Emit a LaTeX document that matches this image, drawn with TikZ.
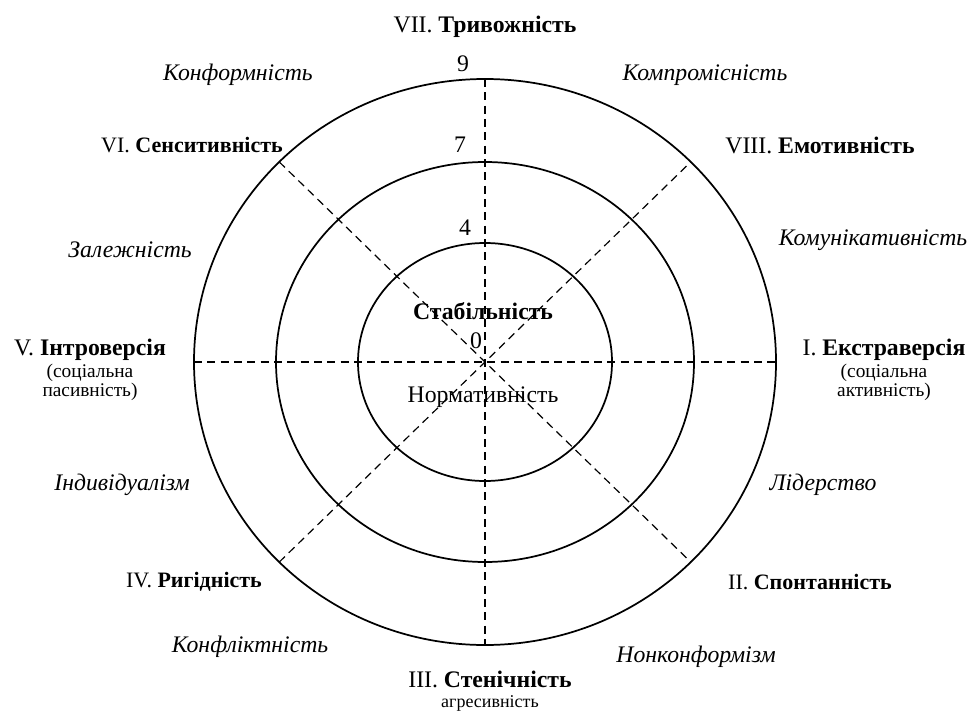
\documentclass[tikz,border=0pt]{standalone}
\usepackage{fontspec}
\setmainfont{Liberation Serif}

\tikzset{
  axis/.style={black,line width=0.9pt,dash pattern=on 6pt off 4pt},
  ring/.style={black,line width=1.3pt},
  lbl/.style={font=\fontsize{17.8}{20}\selectfont,inner sep=0pt},
  small lbl/.style={font=\fontsize{16.5}{18}\selectfont,inner sep=0pt},
  sublbl/.style={font=\fontsize{14.5}{12.5}\selectfont,inner sep=0pt},
  side/.style={font=\fontsize{17.8}{20}\selectfont\itshape,inner sep=0pt}
}

\begin{document}
\begin{tikzpicture}[x=0.75pt,y=-0.75pt]
\useasboundingbox (0,0) rectangle (973,713);
% Centre and ends of the axes
\coordinate (c) at (485,362);
\coordinate (n) at (485,79);
\coordinate (s) at (485,645);
\coordinate (w) at (194,362);
\coordinate (e) at (776,362);
\coordinate (ne) at (690.8,161.9);
\coordinate (nw) at (279.2,161.9);
\coordinate (sw) at (279.2,562.1);
\coordinate (se) at (690.8,562.1);
% Rings (9, 7, 4)
\draw[ring] (c) ellipse [x radius=218.25pt, y radius=212.25pt];
\draw[ring] (c) ellipse [x radius=156.75pt, y radius=150pt];
\draw[ring] (c) ellipse [x radius=95.25pt, y radius=89.25pt];
% Dashed axes
\draw[axis] (n)--(s);
\draw[axis] (w)--(e);
\draw[axis] (nw)--(se);
\draw[axis] (sw)--(ne);
% Scale numbers
\node[lbl] (v9) at (463,64) {9};
\node[lbl] (v7) at (460,145) {7};
\node[lbl] (v4) at (465,228) {4};
\node[lbl] (v0) at (476,341) {0};
\node[lbl,font=\fontsize{17.8}{20}\selectfont\bfseries] (stab) at (483,311) {Стабільність};
\node[lbl] (norm) at (483,397) {Нормативність};
% Octant headings
\node[lbl] (oct7) at (485,27) {VII. \textbf{Тривожність}};
\node[lbl] (oct8) at (820,145) {VIII. \textbf{Емотивність}};
\node[lbl] (oct1) at (884,350) {I. \textbf{Екстраверсія}};
\node[sublbl,align=center] (oct1b) at (884,382) {(соціальна\\активність)};
\node[small lbl] (oct2) at (810,582) {II. \textbf{Спонтанність}};
\node[lbl] (oct3) at (490,679) {III. \textbf{Стенічність}};
\node[sublbl,font=\fontsize{13.5}{12}\selectfont] (oct3b) at (490,703) {агресивність};
\node[small lbl] (oct4) at (194,582) {IV. \textbf{Ригідність}};
\node[lbl] (oct5) at (90,350) {V. \textbf{Інтроверсія}};
\node[sublbl,align=center] (oct5b) at (90,382) {(соціальна\\пасивність)};
\node[small lbl] (oct6) at (192,145) {VI. \textbf{Сенситивність}};
% Labels between the octants
\node[side] (konf) at (238,75) {Конформність};
\node[side] (komp) at (705,75) {Компромісність};
\node[side] (zal) at (130,250) {Залежність};
\node[side] (komu) at (873,240) {Комунікативність};
\node[side] (ind) at (122,485) {Індивідуалізм};
\node[side] (lid) at (823,485) {Лідерство};
\node[side] (konfl) at (250,647) {Конфліктність};
\node[side] (nonk) at (696,657) {Нонконформізм};
\end{tikzpicture}
\end{document}
